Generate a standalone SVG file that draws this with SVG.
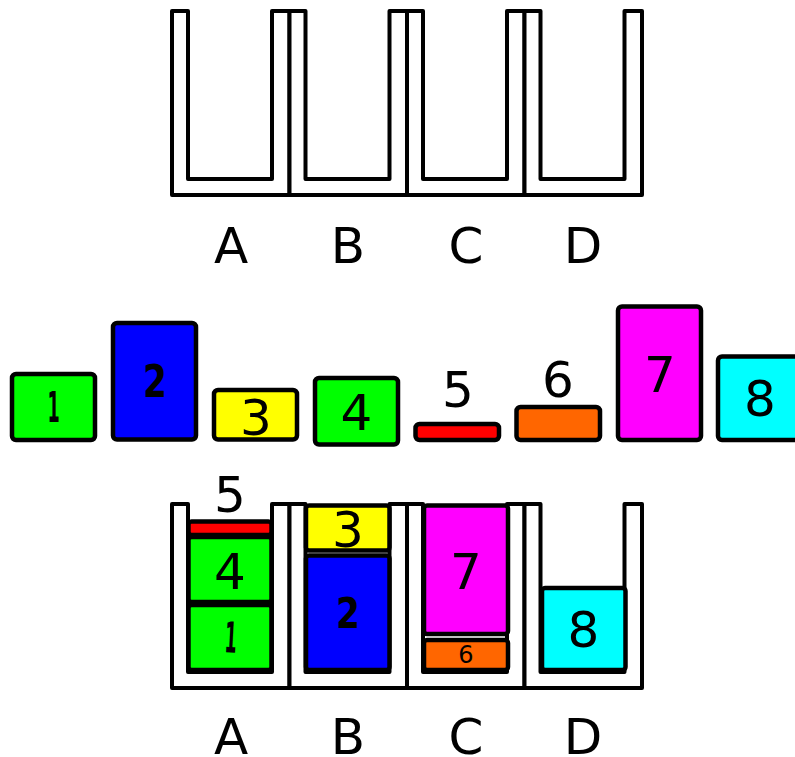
<svg xmlns="http://www.w3.org/2000/svg" xmlns:xlink="http://www.w3.org/1999/xlink" width="795" height="757" viewBox="0 0 795 757">
  <style>
    .bin { fill: #ffffff; stroke: #000000; stroke-width: 4; stroke-linejoin: round; }
    .blk { stroke: #000000; stroke-width: 4.5; stroke-linejoin: round; }
    .lbl { font-family: "DejaVu Sans", sans-serif; font-size: 50px; fill: #000000; text-anchor: middle; }
    .num { font-family: "DejaVu Sans", sans-serif; font-size: 50px; fill: #000000; text-anchor: middle; }
    .bold { font-weight: bold; font-size: 44px; }
    .small { font-size: 24px; }
    .green { fill: #00ff00; }
    .blue { fill: #0000ff; }
    .yellow { fill: #ffff00; }
    .red { fill: #ff0000; }
    .orange { fill: #ff6600; }
    .magenta { fill: #ff00ff; }
    .cyan { fill: #00ffff; }
  </style>
  <defs>
    <!-- U-shaped bin outline, origin at outer top-left -->
    <path id="binShape" class="bin" d="M0,0 H16 V168 H100 V0 H117.5 V184 H0 Z"/>
  </defs>

  <!-- empty bins -->
  <g id="bins-top">
    <g id="binA-top"><use xlink:href="#binShape" transform="translate(172,11)"/></g>
    <g id="binB-top"><use xlink:href="#binShape" transform="translate(289.5,11)"/></g>
    <g id="binC-top"><use xlink:href="#binShape" transform="translate(407,11)"/></g>
    <g id="binD-top"><use xlink:href="#binShape" transform="translate(524.5,11)"/></g>
    <text class="lbl" x="231" y="263">A</text>
    <text class="lbl" x="348" y="263">B</text>
    <text class="lbl" x="466" y="263">C</text>
    <text class="lbl" x="583" y="263">D</text>
  </g>

  <!-- loose blocks -->
  <g id="blocks">
    <g id="block1">
      <rect class="blk green" x="12" y="374" width="83" height="66" rx="4"/>
      <text class="num bold" transform="translate(53.5,421.5) scale(0.4,0.97)">1</text>
    </g>
    <g id="block2">
      <rect class="blk blue" x="113" y="323" width="83" height="116.5" rx="4"/>
      <text class="num bold" transform="translate(155,396.5) scale(0.78,1)">2</text>
    </g>
    <g id="block3">
      <rect class="blk yellow" x="214" y="390" width="83" height="49.5" rx="4"/>
      <text class="num" x="256" y="435">3</text>
    </g>
    <g id="block4">
      <rect class="blk green" x="315" y="378" width="83" height="66.5" rx="4"/>
      <text class="num" x="356.5" y="430">4</text>
    </g>
    <g id="block5">
      <rect class="blk red" x="415.5" y="424" width="83.5" height="16" rx="4"/>
      <text class="num" x="458" y="406.5">5</text>
    </g>
    <g id="block6">
      <rect class="blk orange" x="516.5" y="407" width="83.5" height="33" rx="4"/>
      <text class="num" x="558" y="397">6</text>
    </g>
    <g id="block7">
      <rect class="blk magenta" x="618" y="306.5" width="83" height="133.5" rx="4"/>
      <text class="num" x="660" y="391.5">7</text>
    </g>
    <g id="block8">
      <rect class="blk cyan" x="718" y="356.5" width="83" height="83.5" rx="4"/>
      <text class="num" x="760" y="416">8</text>
    </g>
  </g>

  <!-- filled bins -->
  <g id="bins-bottom">
    <g id="binA">
      <use xlink:href="#binShape" transform="translate(172,504)"/>
      <rect class="blk green" x="188.5" y="605" width="83" height="65" rx="3"/>
      <text class="num bold" transform="translate(230,652.5) rotate(3) scale(0.4,0.97)">1</text>
      <rect class="blk green" x="188.5" y="537" width="83" height="65" rx="3"/>
      <text class="num" x="230" y="588.5">4</text>
      <rect class="blk red" x="188.5" y="521.5" width="83" height="13.5" rx="3"/>
      <text class="num" x="230" y="511.5">5</text>
    </g>
    <g id="binB">
      <use xlink:href="#binShape" transform="translate(289.5,504)"/>
      <rect class="blk blue" x="306" y="555.5" width="83.5" height="114.5" rx="3"/>
      <text class="num bold" transform="translate(348,627.5) scale(0.78,0.95)">2</text>
      <rect class="blk yellow" x="306" y="505.5" width="83.5" height="45" rx="3"/>
      <text class="num" x="348" y="547">3</text>
    </g>
    <g id="binC">
      <use xlink:href="#binShape" transform="translate(407,504)"/>
      <rect class="blk orange" x="424" y="640" width="84" height="30" rx="3"/>
      <text class="num small" x="466" y="663">6</text>
      <rect class="blk magenta" x="424" y="505.5" width="84" height="128.5" rx="3"/>
      <text class="num" x="466" y="588.5">7</text>
    </g>
    <g id="binD">
      <use xlink:href="#binShape" transform="translate(524.5,504)"/>
      <rect class="blk cyan" x="542" y="588" width="83.5" height="82" rx="3"/>
      <text class="num" x="583.5" y="646.5">8</text>
    </g>
    <text class="lbl" x="231" y="754">A</text>
    <text class="lbl" x="348" y="754">B</text>
    <text class="lbl" x="466" y="754">C</text>
    <text class="lbl" x="583" y="754">D</text>
  </g>
</svg>
